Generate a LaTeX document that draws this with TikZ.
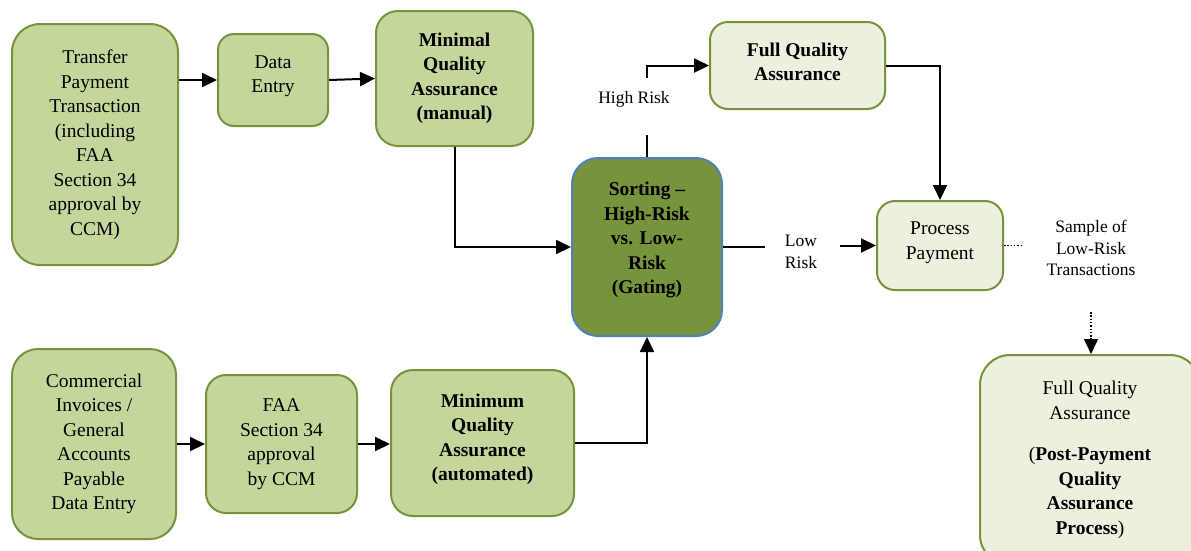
\documentclass[tikz,border=0pt]{standalone}
\usepackage{fontspec}
\setmainfont{Liberation Serif}
\usetikzlibrary{arrows.meta}
\definecolor{boxfill}{HTML}{C3D69B}
\definecolor{boxline}{HTML}{77933C}
\definecolor{darkfill}{HTML}{77933C}
\definecolor{blueline}{HTML}{4F81BD}
\definecolor{lightfill}{HTML}{EBF1DE}
\tikzset{
  box/.style={draw=boxline, fill=boxfill, line width=2pt, rounded corners=#1, align=center, inner sep=0pt,
    font=\fontsize{19.5}{24.5}\selectfont},
  box/.default=20pt,
  lightbox/.style={box=#1, fill=lightfill},
  lightbox/.default=18pt,
  lbl/.style={align=center, inner sep=0pt, font=\fontsize{17.5}{21.5}\selectfont},
  arr/.style={line width=2pt, -{Triangle[length=15pt,width=14pt]}},
  conn/.style={line width=2pt},
  dots/.style={line width=1.5pt, dash pattern=on 1.5pt off 1.8pt},
}
\begin{document}
\begin{tikzpicture}[x=1pt,y=-1pt]
\useasboundingbox (0,0) rectangle (1191,550);
% top row
\node[box=28pt, minimum width=166pt, minimum height=241pt] (tp) at (95,144.5)
  {Transfer\\Payment\\Transaction\\(including\\FAA\\Section 34\\approval by\\CCM)};
\node[box=16pt, minimum width=110pt, minimum height=92pt, text depth=12pt] (de) at (273,80)
  {Data\\Entry};
\node[box=22pt, minimum width=157pt, minimum height=135pt] (mq) at (454.5,78.5)
  {\textbf{Minimal}\\\textbf{Quality}\\\textbf{Assurance}\\\textbf{(manual)}};
% sorting
\node[box=26pt, draw=blueline, fill=darkfill, minimum width=150pt, minimum height=178pt, text depth=18pt] (so) at (647,247)
  {\textbf{Sorting --}\\\textbf{High-Risk}\\\textbf{vs. Low-}\\\textbf{Risk}\\\textbf{(Gating)}};
% right side
\node[lightbox=18pt, minimum width=175pt, minimum height=87pt, text depth=8pt] (fq) at (797.5,65.5)
  {\textbf{Full Quality}\\\textbf{Assurance}};
\node[lightbox=18pt, minimum width=126pt, minimum height=89pt, text depth=10pt] (pp) at (940,245.5)
  {Process\\Payment};
\node[lightbox=30pt, minimum width=220pt, minimum height=210pt] (fb) at (1090,460)
  {Full Quality\\Assurance\\[17pt](\textbf{Post-Payment}\\\textbf{Quality}\\\textbf{Assurance}\\\textbf{Process})};
% bottom row
\node[box=26pt, minimum width=164pt, minimum height=190pt] (ci) at (94,444)
  {Commercial\\Invoices /\\General\\Accounts\\Payable\\Data Entry};
\node[box=20pt, minimum width=151pt, minimum height=138pt] (fa) at (281.5,444)
  {FAA\\Section 34\\approval\\by CCM};
\node[box=22pt, minimum width=183pt, minimum height=146pt, text depth=12pt] (ma) at (482.5,443)
  {\textbf{Minimum}\\\textbf{Quality}\\\textbf{Assurance}\\\textbf{(automated)}};
% labels
\node[lbl] (hr) at (634,99) {High Risk};
\node[lbl] (lr) at (801,252) {Low\\Risk};
\node[lbl] (sl) at (1091,248) {Sample of\\Low-Risk\\Transactions};
% coordinates for gaps
\coordinate (hrb) at (647,135);
\coordinate (hrt) at (647,78);
\coordinate (lrb) at (765,247);
\coordinate (lra) at (840,247);
\coordinate (dt) at (1021,245.5);
\coordinate (sd) at (1091,312);
% connectors
\draw[arr] (tp.east |- de.west) -- (de.west);
\draw[arr] (de.east) -- (mq.west);
\draw[arr] (mq.south) |- (so.west);
\draw[arr] (ci.east) -- (fa.west);
\draw[arr] (fa.east) -- (fa.east -| ma.west);
\draw[arr] (ma.east) -| (so.south);
\draw[conn] (so.north) -- (hrb);
\draw[arr] (hrt) |- (fq.west);
\draw[conn] (so.east) -- (lrb);
\draw[arr] (lra |- pp.west) -- (pp.west);
\draw[arr] (fq.east) -| (pp.north);
\draw[dots] (pp.east) -- (dt);
\draw[dots, -{Triangle[length=15pt,width=14pt]}] (sd) -- (sd |- fb.north);
\end{tikzpicture}
\end{document}
